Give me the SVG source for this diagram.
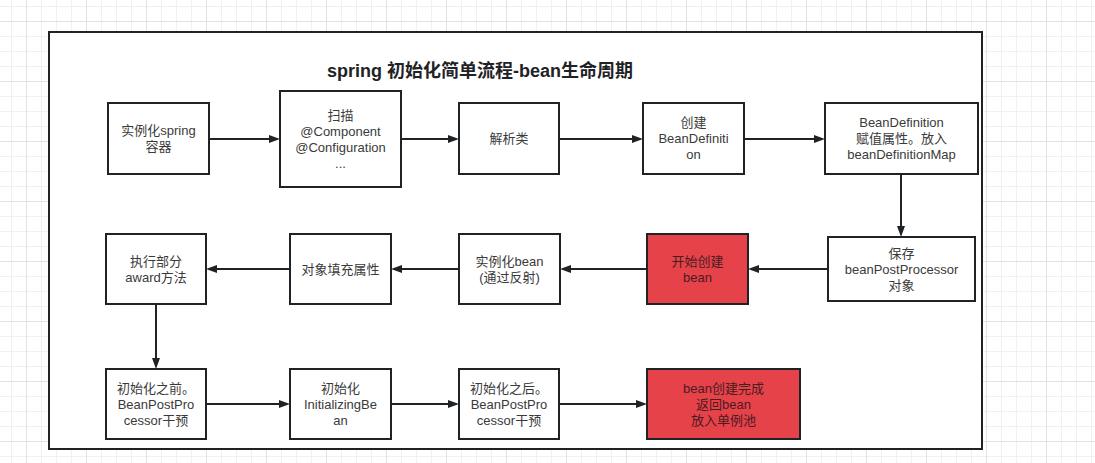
<svg xmlns="http://www.w3.org/2000/svg" width="1095" height="463" viewBox="0 0 1095 463">
<style>
.box{fill:#ffffff;stroke:#1f2326;stroke-width:2}
.red{fill:#e6424a;stroke:#1f2326;stroke-width:2}
.t{font-family:"Liberation Sans","Noto Sans CJK SC",sans-serif;font-size:13px;fill:#3a3a3a;text-anchor:middle}
.tr{font-family:"Liberation Sans","Noto Sans CJK SC",sans-serif;font-size:13px;fill:#4a1c1e;text-anchor:middle}
.title{font-family:"Liberation Sans","Noto Sans CJK SC",sans-serif;font-size:18px;font-weight:bold;fill:#1f2326;text-anchor:middle}
.c{fill:none;stroke:#1f2326;stroke-width:2;marker-end:url(#ah)}
</style>
<defs>
<pattern id="grid" patternUnits="userSpaceOnUse" x="26" y="21" width="60" height="60">
<path d="M15.5 0V60M30.5 0V60M45.5 0V60M0 15.5H60M0 30.5H60M0 45.5H60" stroke="#f0f0f0" stroke-width="1" fill="none"/>
<path d="M0.5 0V60M0 0.5H60" stroke="#e2e2e2" stroke-width="1" fill="none"/>
</pattern>
<marker id="ah" markerUnits="userSpaceOnUse" markerWidth="12" markerHeight="9" refX="5" refY="4" orient="auto">
<path d="M0 0L11 4L0 8z" fill="#1f2326"/>
</marker>
</defs>
<rect width="1095" height="463" fill="#ffffff"/>
<rect width="1095" height="463" fill="url(#grid)"/>
<rect x="49" y="32" width="933" height="417" fill="#ffffff" stroke="#1f2326" stroke-width="2"/>
<text class="title" x="480" y="77">spring 初始化简单流程-bean生命周期</text>

<g id="connectors">
<path class="c" d="M209 139H274"/>
<path class="c" d="M401 139H453"/>
<path class="c" d="M559 139H637"/>
<path class="c" d="M744 139H819"/>
<path class="c" d="M901 174V231"/>
<path class="c" d="M828 269H754"/>
<path class="c" d="M647 269H566"/>
<path class="c" d="M459 269H397"/>
<path class="c" d="M290 269H212"/>
<path class="c" d="M156 304V363"/>
<path class="c" d="M206 404H284"/>
<path class="c" d="M391 404H453"/>
<path class="c" d="M559 404H641"/>
</g>

<g id="n1"><rect class="box" x="108" y="103" width="101" height="71"/>
<text class="t" x="158.5" y="135">实例化spring</text><text class="t" x="158.5" y="151">容器</text></g>
<g id="n2"><rect class="box" x="280" y="91" width="121" height="96"/>
<text class="t" x="340.5" y="119.5">扫描</text><text class="t" x="340.5" y="135.5">@Component</text><text class="t" x="340.5" y="151.5">@Configuration</text><text class="t" x="340.5" y="167.5">...</text></g>
<g id="n3"><rect class="box" x="459" y="103" width="100" height="71"/>
<text class="t" x="509" y="143">解析类</text></g>
<g id="n4"><rect class="box" x="643" y="103" width="101" height="71"/>
<text class="t" x="693.5" y="127">创建</text><text class="t" x="693.5" y="143">BeanDefiniti</text><text class="t" x="693.5" y="159">on</text></g>
<g id="n5"><rect class="box" x="825" y="103" width="153" height="71"/>
<text class="t" x="901.5" y="127">BeanDefinition</text><text class="t" x="901.5" y="143">赋值属性。放入</text><text class="t" x="901.5" y="159">beanDefinitionMap</text></g>

<g id="n6"><rect class="box" x="828" y="237" width="147" height="64"/>
<text class="t" x="901.5" y="257.5">保存</text><text class="t" x="901.5" y="273.5">beanPostProcessor</text><text class="t" x="901.5" y="289.5">对象</text></g>
<g id="n7"><rect class="red" x="647" y="234" width="101" height="70"/>
<text class="tr" x="697.5" y="265.5">开始创建</text><text class="tr" x="697.5" y="281.5">bean</text></g>
<g id="n8"><rect class="box" x="459" y="234" width="101" height="70"/>
<text class="t" x="509.5" y="265.5">实例化bean</text><text class="t" x="509.5" y="281.5">(通过反射)</text></g>
<g id="n9"><rect class="box" x="290" y="234" width="101" height="70"/>
<text class="t" x="340.5" y="273.5">对象填充属性</text></g>
<g id="n10"><rect class="box" x="106" y="234" width="100" height="70"/>
<text class="t" x="156" y="265.5">执行部分</text><text class="t" x="156" y="281.5">award方法</text></g>

<g id="n11"><rect class="box" x="106" y="369" width="100" height="70"/>
<text class="t" x="156" y="392.5">初始化之前。</text><text class="t" x="156" y="408.5">BeanPostPro</text><text class="t" x="156" y="424.5">cessor干预</text></g>
<g id="n12"><rect class="box" x="290" y="369" width="101" height="70"/>
<text class="t" x="340.5" y="392.5">初始化</text><text class="t" x="340.5" y="408.5">InitializingBe</text><text class="t" x="340.5" y="424.5">an</text></g>
<g id="n13"><rect class="box" x="459" y="369" width="100" height="70"/>
<text class="t" x="509" y="392.5">初始化之后。</text><text class="t" x="509" y="408.5">BeanPostPro</text><text class="t" x="509" y="424.5">cessor干预</text></g>
<g id="n14"><rect class="red" x="647" y="369" width="153" height="70"/>
<text class="tr" x="723.5" y="392.5">bean创建完成</text><text class="tr" x="723.5" y="408.5">返回bean</text><text class="tr" x="723.5" y="424.5">放入单例池</text></g>
</svg>
